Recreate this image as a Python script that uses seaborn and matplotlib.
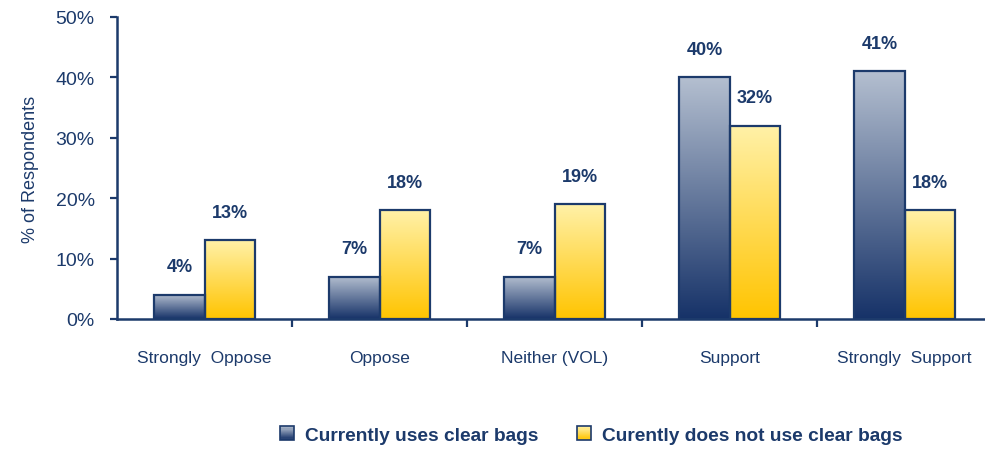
"""Clear bag policy support, by current use of clear bags."""
import numpy as np
import pandas as pd
import matplotlib
matplotlib.use("Agg")
import matplotlib.pyplot as plt
import seaborn as sns
from matplotlib.colors import LinearSegmentedColormap
from matplotlib.legend_handler import HandlerPatch
from matplotlib.patches import Patch, Rectangle

categories = ["Strongly  Oppose", "Oppose", "Neither (VOL)", "Support", "Strongly  Support"]
series_names = ["Currently uses clear bags", "Curently does not use clear bags"]
uses_clear = [4, 7, 7, 40, 41]
no_clear = [13, 18, 19, 32, 18]
yticks = [0, 10, 20, 30, 40, 50]
ytick_labels = ["0%", "10%", "20%", "30%", "40%", "50%"]

NAVY = "#1c3a6b"
# top colour -> bottom colour for each series
GRADIENTS = [("#b4bfd0", "#163268"), ("#fff1a8", "#ffc400")]

sns.set_style("white")
plt.rcParams["font.family"] = ["Liberation Sans Narrow", "Liberation Sans", "DejaVu Sans"]

df = pd.DataFrame({
    "category": categories * 2,
    "value": uses_clear + no_clear,
    "series": [series_names[0]] * 5 + [series_names[1]] * 5,
})

fig = plt.figure(figsize=(9.85, 4.56), dpi=100)
ax = fig.add_axes([117 / 985, 1 - 320 / 456, 1 - 117 / 985, (320 - 18) / 456])

sns.barplot(data=df, x="category", y="value", hue="series", order=categories,
            hue_order=series_names, width=0.572, gap=0, legend=False, ax=ax,
            edgecolor=NAVY, linewidth=1.6, saturation=1)

# gradient fills clipped to each bar
for cont, (top, bot) in zip(ax.containers, GRADIENTS):
    cmap = LinearSegmentedColormap.from_list("g", [bot, top])
    for bar in cont:
        x0, y0 = bar.get_x(), bar.get_y()
        w, h = bar.get_width(), bar.get_height()
        grad = np.linspace(0, 1, 256).reshape(-1, 1)
        im = ax.imshow(grad, cmap=cmap, origin="lower", aspect="auto",
                       extent=(x0, x0 + w, y0, y0 + h), zorder=1)
        im.set_clip_path(bar)
        bar.set_facecolor("none")
        bar.set_zorder(2)
        ax.annotate(f"{h:.0f}%", (x0 + w / 2, h), xytext=(0, 14),
                    textcoords="offset points", ha="center", va="bottom",
                    fontsize=13, fontweight="bold", color=NAVY)
ax.set_xlim(-0.5, 4.46)
ax.set_ylim(0, 50)

# axes styling
sns.despine(ax=ax)
for s in ["left", "bottom"]:
    ax.spines[s].set_color(NAVY)
    ax.spines[s].set_linewidth(1.8)

ax.set_yticks(yticks)
ax.set_yticklabels(ytick_labels)
ax.tick_params(axis="y", direction="out", length=5, width=1.6, color=NAVY,
               labelsize=14, labelcolor=NAVY, pad=11, left=True)
ax.set_xticks(range(len(categories)))
ax.set_xticklabels(categories)
ax.tick_params(axis="x", which="major", length=0, pad=22, labelsize=12.5,
               labelcolor=NAVY)
ax.set_xticks([0.5, 1.5, 2.5, 3.5], minor=True)
ax.tick_params(axis="x", which="minor", direction="out", length=6, width=1.6,
               color=NAVY, bottom=True)
ax.set_xlabel("")
ax.set_ylabel("% of Respondents", fontsize=13, color=NAVY, labelpad=12)


class GradientHandler(HandlerPatch):
    def __init__(self, top, bot):
        super().__init__()
        self.top, self.bot = top, bot

    def create_artists(self, legend, orig_handle, xdescent, ydescent,
                       width, height, fontsize, trans):
        cmap = LinearSegmentedColormap.from_list("g", [self.bot, self.top])
        size = height * 1.0
        x0 = -xdescent + (width - size) / 2
        y0 = -ydescent + (height - size) / 2
        arts = []
        n = 12
        for i in range(n):
            arts.append(Rectangle((x0, y0 + i * size / n), size, size / n,
                                  facecolor=cmap((i + 0.5) / n), edgecolor="none",
                                  transform=trans))
        arts.append(Rectangle((x0, y0), size, size, facecolor="none",
                              edgecolor=NAVY, linewidth=1.2, transform=trans))
        return arts


handles = [Patch(label=n) for n in series_names]
fig.legend(handles=handles, loc="center", bbox_to_anchor=(0.6, 0.044), ncol=2,
           frameon=False, prop={"size": 13.8, "weight": "bold"}, labelcolor=NAVY,
           handlelength=0.75, handletextpad=0.55, columnspacing=2.0,
           handler_map={handles[0]: GradientHandler(*GRADIENTS[0]),
                        handles[1]: GradientHandler(*GRADIENTS[1])})

fig.savefig("out.png", dpi=100)
